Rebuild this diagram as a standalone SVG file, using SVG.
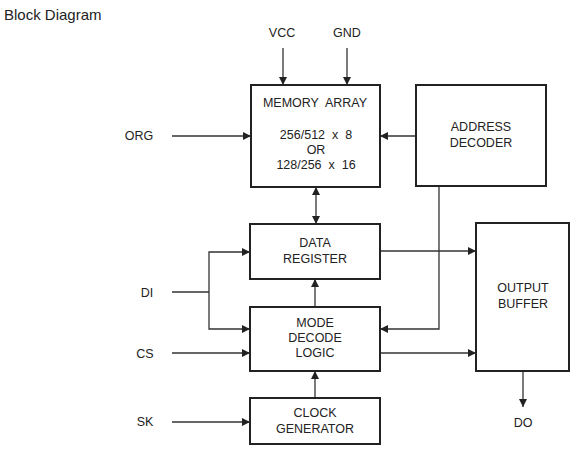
<svg xmlns="http://www.w3.org/2000/svg" width="576" height="454" viewBox="0 0 576 454">
<style>
text{font-family:"Liberation Sans",Arial,sans-serif;font-size:12.5px;fill:#222;text-anchor:middle}
.box{fill:#fff;stroke:#222;stroke-width:2}
.ln{fill:none;stroke:#333;stroke-width:1.3}
</style>
<defs>
<marker id="ah" viewBox="0 0 10 10" refX="10" refY="5" markerWidth="9" markerHeight="8" markerUnits="userSpaceOnUse" orient="auto-start-reverse">
<path d="M0,0L10,5L0,10z" fill="#222"/>
</marker>
</defs>
<rect width="576" height="454" fill="#fff"/>
<text x="4" y="20" style="text-anchor:start;font-size:15px">Block Diagram</text>
<text x="282" y="37">VCC</text>
<text x="347" y="37">GND</text>
<text x="139" y="140">ORG</text>
<text x="147" y="297">DI</text>
<text x="145" y="358">CS</text>
<text x="145" y="426">SK</text>
<text x="523" y="427">DO</text>
<g id="connectors">
<line class="ln" x1="283" y1="48" x2="283" y2="85" marker-end="url(#ah)"/>
<line class="ln" x1="347" y1="48" x2="347" y2="85" marker-end="url(#ah)"/>
<line class="ln" x1="172" y1="136" x2="251" y2="136" marker-end="url(#ah)"/>
<line class="ln" x1="416" y1="136" x2="380" y2="136" marker-end="url(#ah)"/>
<line class="ln" x1="316" y1="187" x2="316" y2="224" marker-start="url(#ah)" marker-end="url(#ah)"/>
<line class="ln" x1="172" y1="292" x2="209" y2="292"/>
<polyline class="ln" points="250,252 209,252 209,329 250,329" marker-start="url(#ah)" marker-end="url(#ah)"/>
<line class="ln" x1="172" y1="353" x2="250" y2="353" marker-end="url(#ah)"/>
<line class="ln" x1="172" y1="422" x2="250" y2="422" marker-end="url(#ah)"/>
<line class="ln" x1="315" y1="307" x2="315" y2="279" marker-end="url(#ah)"/>
<line class="ln" x1="315" y1="398" x2="315" y2="371" marker-end="url(#ah)"/>
<line class="ln" x1="380" y1="251" x2="476" y2="251" marker-end="url(#ah)"/>
<line class="ln" x1="380" y1="353" x2="476" y2="353" marker-end="url(#ah)"/>
<polyline class="ln" points="439,186 439,329 380,329" marker-end="url(#ah)"/>
<line class="ln" x1="523" y1="371" x2="523" y2="407" marker-end="url(#ah)"/>
</g>
<g id="memory-array">
<rect class="box" x="251" y="85" width="129" height="102"/>
<text x="315" y="107" xml:space="preserve">MEMORY  ARRAY</text>
<text x="316" y="139" xml:space="preserve">256/512  x  8</text>
<text x="316" y="154">OR</text>
<text x="316" y="169" xml:space="preserve">128/256  x  16</text>
</g>
<g id="address-decoder">
<rect class="box" x="416" y="85" width="130" height="101"/>
<text x="481" y="131">ADDRESS</text>
<text x="481" y="147">DECODER</text>
</g>
<g id="data-register">
<rect class="box" x="250" y="224" width="130" height="55"/>
<text x="315" y="247">DATA</text>
<text x="315" y="263">REGISTER</text>
</g>
<g id="mode-decode-logic">
<rect class="box" x="250" y="307" width="130" height="64"/>
<text x="315" y="327">MODE</text>
<text x="315" y="342">DECODE</text>
<text x="315" y="357">LOGIC</text>
</g>
<g id="output-buffer">
<rect class="box" x="476" y="223" width="93" height="148"/>
<text x="523" y="292">OUTPUT</text>
<text x="523" y="308">BUFFER</text>
</g>
<g id="clock-generator">
<rect class="box" x="250" y="398" width="130" height="46"/>
<text x="315" y="417">CLOCK</text>
<text x="315" y="433">GENERATOR</text>
</g>
</svg>
